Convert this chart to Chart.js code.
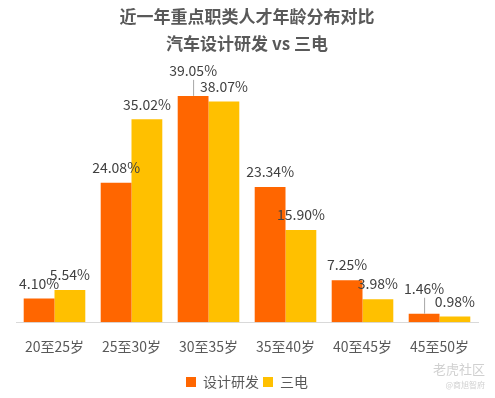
<!DOCTYPE html>
<html>
<head>
    <meta charset="utf-8">
    <title>近一年重点职类人才年龄分布对比</title>
    <script src="https://cdn.jsdelivr.net/npm/chart.js"></script>
    <style>
        body { margin: 0; background: #fff; }
        #wrap { position: relative; width: 495px; height: 398px; }
        #mark { position: absolute; right: 10px; bottom: 6px; color: #d0d0d0; font: 13px "Noto Sans CJK SC"; text-align: right; line-height: 14px; }
        #mark small { font-size: 8px; }
    </style>
</head>
<body>
    <div id="wrap">
        <canvas id="barChart" width="495" height="398"></canvas>
        <div id="mark">老虎社区<br><small>@商旭智府</small></div>
    </div>

    <script>
        // 数据
        const ageGroups = ['20至25岁', '25至30岁', '30至35岁', '35至40岁', '40至45岁', '45至50岁'];
        const designRD = [4.10, 24.08, 39.05, 23.34, 7.25, 1.46];
        const sanDian = [5.54, 35.02, 38.07, 15.90, 3.98, 0.98];

        const FONT = '"Noto Sans CJK SC", "Microsoft YaHei", sans-serif';

        // 自己画数据标签（没有 datalabels 插件）
        const valueLabels = {
            id: 'valueLabels',
            afterDatasetsDraw(chart) {
                const ctx = chart.ctx;
                ctx.save();
                ctx.font = '14px ' + FONT;
                ctx.fillStyle = '#404040';
                ctx.textAlign = 'center';
                ctx.textBaseline = 'middle';
                chart.data.datasets.forEach((ds, i) => {
                    const meta = chart.getDatasetMeta(i);
                    meta.data.forEach((bar, j) => {
                        const lifted = ds.leader && ds.leader[j];
                        const y = lifted ? bar.y - 25 : bar.y - 15;
                        if (lifted) {
                            ctx.strokeStyle = '#a6a6a6';
                            ctx.lineWidth = 1;
                            ctx.beginPath();
                            ctx.moveTo(bar.x + 0.5, bar.y);
                            ctx.lineTo(bar.x + 0.5, y + 9);
                            ctx.stroke();
                        }
                        ctx.fillText(ds.data[j].toFixed(2) + '%', bar.x, y);
                    });
                });
                ctx.restore();
            }
        };

        const ctx = document.getElementById('barChart').getContext('2d');
        const chart = new Chart(ctx, {
            type: 'bar',
            data: {
                labels: ageGroups,
                datasets: [{
                    label: '设计研发',
                    data: designRD,
                    backgroundColor: '#FF6600',
                    leader: [0, 0, 1, 0, 0, 1]
                }, {
                    label: '三电',
                    data: sanDian,
                    backgroundColor: '#FFC000'
                }]
            },
            options: {
                responsive: false,
                animation: false,
                devicePixelRatio: 1,
                layout: { padding: { left: 16, right: 17, top: 0, bottom: -1 } },
                datasets: { bar: { barPercentage: 1, categoryPercentage: 0.8 } },
                plugins: {
                    title: {
                        display: true,
                        text: ['近一年重点职类人才年龄分布对比', '汽车设计研发 vs 三电'],
                        color: '#595959',
                        font: { family: FONT, size: 17, weight: 'bold', lineHeight: 1.6 },
                        padding: { top: 3, bottom: 4 }
                    },
                    legend: {
                        position: 'bottom',
                        labels: {
                            color: '#595959',
                            boxWidth: 10,
                            boxHeight: 10,
                            padding: 4,
                            font: { family: FONT, size: 14 }
                        }
                    },
                    tooltip: { enabled: false }
                },
                scales: {
                    x: {
                        grid: { display: false, drawTicks: false },
                        border: { display: true, color: '#d9d9d9', width: 1 },
                        ticks: { color: '#595959', padding: 16, font: { family: FONT, size: 14 } }
                    },
                    y: {
                        display: false,
                        min: 0,
                        max: 45
                    }
                }
            },
            plugins: [valueLabels]
        });
    </script>
</body>
</html>
